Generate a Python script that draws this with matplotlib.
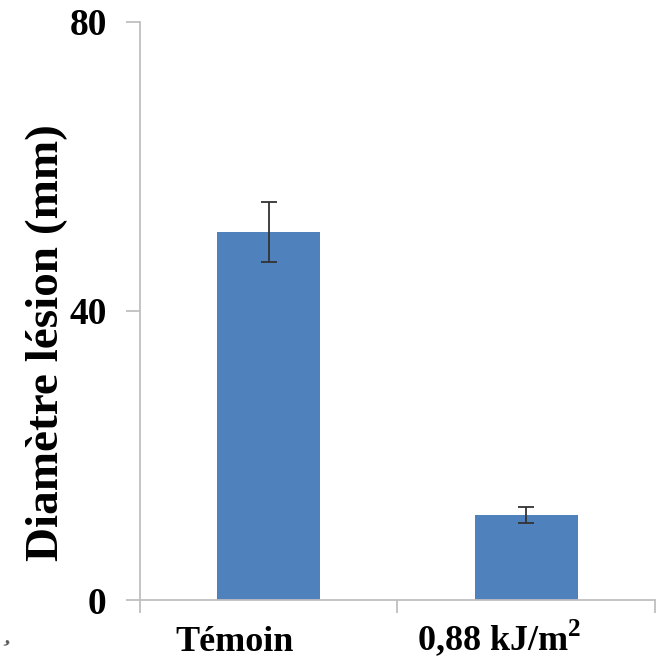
import matplotlib.pyplot as plt
from matplotlib.transforms import ScaledTranslation

categories = ['Témoin', r'0,88 kJ/m$^{\mathbf{2}}$']
values = [50.9, 11.8]
errors = [4.1, 1.1]
yticks = [0, 40, 80]

plt.rcParams['font.family'] = ['Liberation Serif', 'DejaVu Serif']
plt.rcParams['font.weight'] = 'bold'
plt.rcParams['mathtext.fontset'] = 'custom'
plt.rcParams['mathtext.rm'] = 'Liberation Serif:bold'
plt.rcParams['mathtext.bf'] = 'Liberation Serif:bold'

fig = plt.figure(figsize=(6.62, 6.58), dpi=100)
ax = fig.add_axes([0.2115, 0.088, 0.7775, 0.879])

x = range(len(categories))
ax.bar(x, values, width=0.4, color='#4F81BD', zorder=2)
ax.errorbar(x, values, yerr=errors, fmt='none', ecolor='#333333',
            elinewidth=1.3, capsize=5.5, capthick=1.3, zorder=3)

ax.set_xlim(-0.5, 1.5)
ax.set_ylim(0, 80)
ax.set_yticks(yticks)
ax.set_yticklabels([str(t) for t in yticks], fontsize=27, fontweight='bold')

ax.set_xticks([0, 1])
ax.set_xticklabels(categories, fontsize=26, fontweight='bold')
ax.tick_params(axis='x', which='major', length=0, pad=19)
ax.set_xticks([-0.5, 0.5, 1.5], minor=True)
ax.tick_params(axis='x', which='minor', length=9, width=1.3, color='#BFBFBF')
ax.tick_params(axis='y', length=10, width=1.3, color='#BFBFBF', pad=14)

# labels sit a bit left of the bar centres in the original
shifts = [(-0.34, 0), (-0.27, 0.09)]
for lab, (dx, dy) in zip(ax.get_xticklabels(), shifts):
    lab.set_transform(lab.get_transform() + ScaledTranslation(dx, dy, fig.dpi_scale_trans))

for s in ['top', 'right']:
    ax.spines[s].set_visible(False)
for s in ['left', 'bottom']:
    ax.spines[s].set_color('#BFBFBF')
    ax.spines[s].set_linewidth(1.3)

ax.set_ylabel('Diamètre lésion (mm)', fontsize=34, fontweight='bold')
ax.yaxis.set_label_coords(-0.14, 0.445)

fig.text(0.003, 0.022, ',', fontsize=16, color='#555555', rotation=-20)

fig.savefig('out.png', dpi=100)
